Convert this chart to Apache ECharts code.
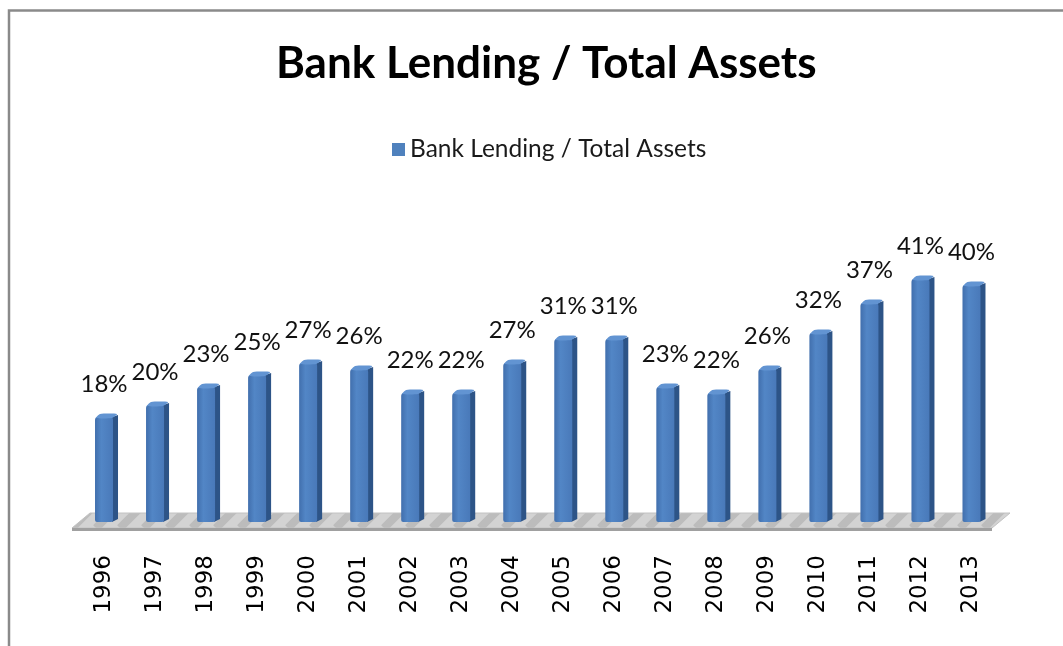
<!DOCTYPE html>
<html>
<head>
<meta charset="utf-8">
<title>Bank Lending / Total Assets</title>
<script src="https://cdn.jsdelivr.net/npm/echarts@6/dist/echarts.min.js"></script>
<style>
  html, body { margin: 0; padding: 0; background: #ffffff; }
  #chart { width: 1063px; height: 646px; }
</style>
</head>
<body>
<div id="chart"></div>
<script>
// Years on the category axis
const years = ['1996', '1997', '1998', '1999', '2000', '2001', '2002', '2003', '2004',
               '2005', '2006', '2007', '2008', '2009', '2010', '2011', '2012', '2013'];
// Bank lending as a share of total assets, in percent
const lendingShare = [18, 20, 23, 25, 27, 26, 22, 22, 27, 31, 31, 23, 22, 26, 32, 37, 41, 40];
const seriesName = 'Bank Lending / Total Assets';
const chartTitle = 'Bank Lending / Total Assets';

const chart = echarts.init(document.getElementById('chart'), null, { renderer: 'canvas' });

// Diagonal-striped grey texture for the floor under the columns
function makeFloorPattern() {
  const c = document.createElement('canvas');
  c.width = 24; c.height = 24;
  const g = c.getContext('2d');
  g.fillStyle = '#d3d3d3';
  g.fillRect(0, 0, 24, 24);
  g.strokeStyle = '#bcbcbc';
  g.lineWidth = 8;
  for (let k = -24; k <= 48; k += 24) {
    g.beginPath();
    g.moveTo(k, 24);
    g.lineTo(k + 24, 0);
    g.stroke();
  }
  return c;
}

const frontFill = new echarts.graphic.LinearGradient(0, 0, 1, 0, [
  { offset: 0, color: '#416fad' },
  { offset: 0.35, color: '#5286c6' },
  { offset: 1, color: '#4979b9' }
]);

// 3-D looking column: front face, darker right side, lighter top, value label above
function renderColumn(params, api) {
  const idx = api.value(0);
  const val = api.value(1);
  const top = api.coord([idx, val]);
  const base = api.coord([idx, 0]);
  const w = 18, dx = 5, dy = 3;
  const x = top[0] - w / 2;
  const yTop = top[1];
  const yBase = base[1];
  return {
    type: 'group',
    children: [
      {
        type: 'polygon',
        shape: { points: [[x + w - 1, yTop + dy], [x + w + dx, yTop + 1], [x + w + dx, yBase - dy], [x + w - 1, yBase]] },
        style: { fill: '#2d5487' }
      },
      {
        type: 'rect',
        shape: { x: x, y: yTop + dy, width: w, height: yBase - yTop - dy, r: [3, 3, 2, 2] },
        style: { fill: frontFill }
      },
      {
        type: 'polygon',
        shape: { points: [[x + 1, yTop + dy + 1], [x + dx, yTop], [x + w + dx - 1, yTop], [x + w - 1, yTop + dy + 1]], smooth: 0.2 },
        style: { fill: '#6294d2' }
      },
      {
        type: 'text',
        x: top[0],
        y: yTop - 30,
        style: {
          text: val + '%',
          align: 'center',
          verticalAlign: 'middle',
          fill: '#111111',
          font: '24px Lato, "Open Sans", sans-serif'
        }
      }
    ]
  };
}

const option = {
  animation: false,
  backgroundColor: '#ffffff',
  title: {
    text: chartTitle,
    left: 271,
    top: 37,
    textStyle: { fontFamily: 'Lato', fontWeight: 'bold', fontSize: 44, color: '#000000' }
  },
  legend: {
    left: 387,
    top: 132,
    itemWidth: 13,
    itemHeight: 13,
    itemGap: 10,
    data: [{ name: seriesName, icon: 'rect' }],
    textStyle: { fontFamily: 'Lato', fontSize: 24.5, color: '#1a1a1a' }
  },
  grid: { left: 78.5, width: 918.5, top: 222, bottom: 124 },
  xAxis: {
    type: 'category',
    data: years,
    axisLine: { show: false },
    axisTick: { show: false },
    axisLabel: {
      rotate: 90,
      margin: 33,
      fontFamily: 'DejaVu Sans',
      fontSize: 23,
      color: '#000000'
    }
  },
  yAxis: {
    type: 'value',
    min: 0,
    max: 50,
    show: false,
    splitLine: { show: false }
  },
  graphic: [
    // chart frame
    {
      type: 'polyline',
      z: 0,
      shape: { points: [[9, 646], [9, 10.5], [1063, 10.5]] },
      style: { stroke: '#8a8a8a', lineWidth: 2.5, fill: null }
    },
    // floor slab
    {
      type: 'polygon',
      z: 0,
      shape: { points: [[72, 528], [90, 513], [1010, 513], [992, 528]] },
      style: { fill: { image: makeFloorPattern(), repeat: 'repeat' }, stroke: '#c2c2c2', lineWidth: 1 }
    },
    {
      type: 'polygon',
      z: 0,
      shape: { points: [[72, 528], [992, 528], [992, 531], [72, 531]] },
      style: { fill: '#a0a0a0' }
    }
  ],
  series: [
    {
      name: seriesName,
      type: 'custom',
      z: 5,
      renderItem: renderColumn,
      itemStyle: { color: '#4f81bd' },
      encode: { x: 0, y: 1 },
      data: years.map((y, i) => [i, lendingShare[i]])
    }
  ]
};

chart.setOption(option);
</script>
</body>
</html>
